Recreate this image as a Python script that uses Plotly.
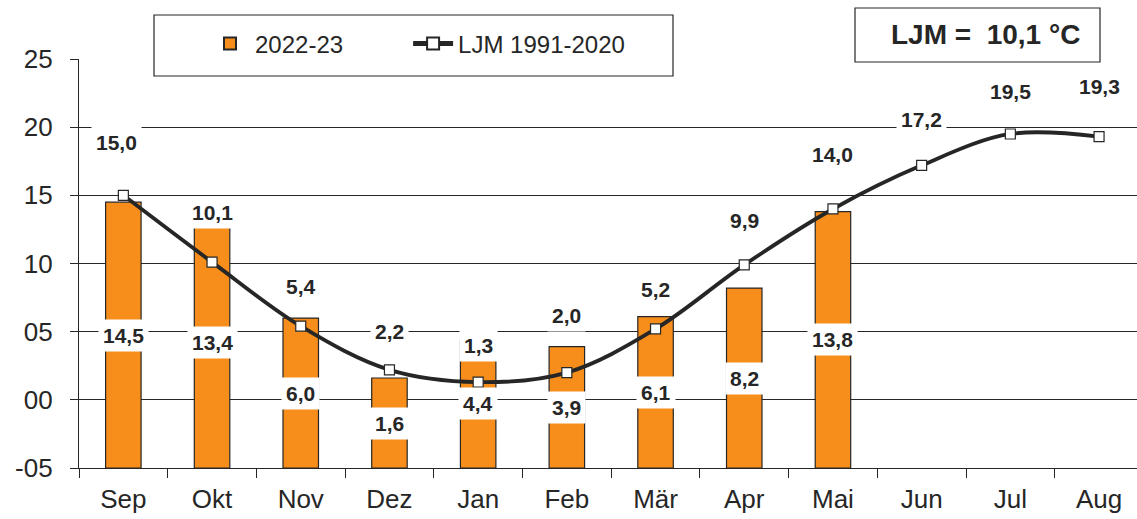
import plotly.graph_objects as go

months = ["Sep", "Okt", "Nov", "Dez", "Jan", "Feb", "Mär", "Apr", "Mai", "Jun", "Jul", "Aug"]
temp_2022_23 = [14.5, 13.4, 6.0, 1.6, 4.4, 3.9, 6.1, 8.2, 13.8]
ljm_1991_2020 = [15.0, 10.1, 5.4, 2.2, 1.3, 2.0, 5.2, 9.9, 14.0, 17.2, 19.5, 19.3]
y_tickvals = [-5, 0, 5, 10, 15, 20, 25]
y_ticktext = ["-05", "00", "05", "10", "15", "20", "25"]
ljm_annual = "LJM =  10,1 °C"
series_names = ["2022-23", "LJM 1991-2020"]

# styling: pixel shift of line labels above markers
line_label_shift = [53, 50, 40, 38, 37, 57, 39, 44, 54, 46, 42, 50]
line_label_xshift = [-7, 0, 0, 0, 0, 0, 0, 0, 0, 0, 0, 0]

BASE = -5
ORANGE = "#F78E1B"
INK = "#262626"
FONT = "Liberation Sans, Arial, sans-serif"
NBSP = "\u00a0"

def fmt(v):
    return f"{v:.1f}".replace(".", ",")

fig = go.Figure()
fig.add_trace(go.Bar(
    x=months[:len(temp_2022_23)],
    y=[v - BASE for v in temp_2022_23],
    base=BASE,
    width=0.4,
    marker=dict(color=ORANGE, line=dict(color=INK, width=1.2)),
    name=series_names[0] + NBSP * 9,
))
fig.add_trace(go.Scatter(
    x=months,
    y=ljm_1991_2020,
    mode="lines+markers",
    line=dict(color=INK, width=3.8, shape="spline", smoothing=1.0),
    marker=dict(symbol="square", size=10, color="white", line=dict(color=INK, width=1.2)),
    name=series_names[1],
))

annotations = []
for m, v in zip(months, temp_2022_23):
    annotations.append(dict(
        x=m, y=(BASE + v) / 2, text=f"<b>{fmt(v)}</b>", showarrow=False,
        font=dict(family=FONT, size=21, color=INK), bgcolor="white", borderpad=4,
    ))
for m, v, dy, dx in zip(months, ljm_1991_2020, line_label_shift, line_label_xshift):
    annotations.append(dict(
        x=m, y=v, yshift=dy, xshift=dx, text=f"<b>{fmt(v)}</b>", showarrow=False,
        font=dict(family=FONT, size=21, color=INK), bgcolor="white", borderpad=4,
    ))

# plot-area geometry helpers (paper fractions)
L, R, T, B = 79, 0, 59, 51
W, H = 1137, 519
pw, ph = W - L - R, H - T - B
def px(x):
    return (x - L) / pw
def py(y):
    return (H - B - y) / ph

annotations.append(dict(
    xref="paper", yref="paper", x=px(1082), y=py(35), xanchor="right", yanchor="middle",
    text=f"<b>{ljm_annual}</b>", showarrow=False,
    font=dict(family=FONT, size=28, color=INK),
))

shapes = [
    dict(type="rect", xref="paper", yref="paper", x0=px(154), x1=px(673), y0=py(76), y1=py(15),
         fillcolor="white", line=dict(color=INK, width=1.2), layer="above"),
    dict(type="rect", xref="paper", yref="paper", x0=px(855), x1=px(1100), y0=py(62), y1=py(8),
         fillcolor="white", line=dict(color=INK, width=1.2), layer="above"),
]

fig.update_layout(
    width=W, height=H,
    margin=dict(l=L, r=R, t=T, b=B, pad=0, autoexpand=False),
    paper_bgcolor="white", plot_bgcolor="white",
    font=dict(family=FONT, color=INK),
    annotations=annotations,
    shapes=shapes,
    showlegend=True,
    legend=dict(
        orientation="h", xref="container", yref="container",
        x=205 / W, y=1 - 44 / H, xanchor="left", yanchor="middle",
        font=dict(family=FONT, size=24, color=INK), bgcolor="rgba(0,0,0,0)",
        borderwidth=0, itemsizing="constant", traceorder="normal",
        itemwidth=40,
    ),
    bargap=0.6,
)
fig.update_xaxes(
    type="category", categoryorder="array", categoryarray=months,
    range=[-0.5, -0.5 + pw / 88.7], automargin=False,
    showline=True, linecolor=INK, linewidth=1.2,
    ticks="outside", tickson="boundaries", ticklen=9, tickcolor=INK, tickwidth=1.2,
    ticklabelstandoff=8,
    tickfont=dict(family=FONT, size=26, color=INK),
    showgrid=False, fixedrange=True,
)
fig.update_yaxes(
    range=[-5, 25], tickvals=y_tickvals, ticktext=y_ticktext, automargin=False,
    showline=True, linecolor=INK, linewidth=1.2,
    ticks="outside", ticklen=8, tickcolor=INK, tickwidth=1.2,
    ticklabelstandoff=12,
    tickfont=dict(family=FONT, size=26, color=INK),
    showgrid=True, gridcolor=INK, gridwidth=1.2, zeroline=False,
)

fig.write_html("out.html", config={"displayModeBar": False},
               post_script="document.body.style.margin='0';")
